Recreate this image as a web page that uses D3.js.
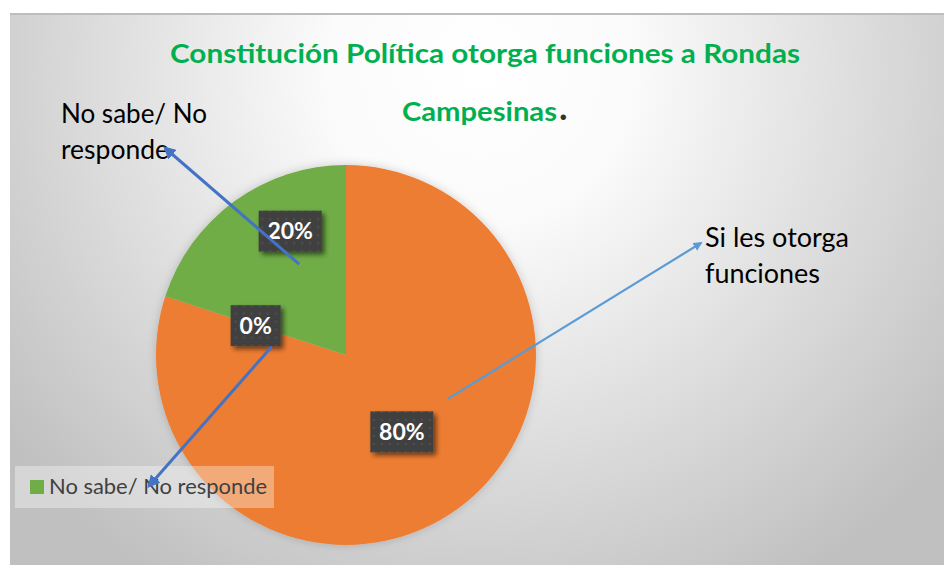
<!DOCTYPE html>
<html>
<head>
<meta charset="utf-8">
<script src="https://cdn.jsdelivr.net/npm/d3@7/dist/d3.min.js"></script>
<style>
  html, body { margin: 0; padding: 0; background: #ffffff; }
  svg { display: block; }
</style>
</head>
<body>
<svg id="chart" width="944" height="565"></svg>
<script>
// ---- data ----
const titleLines = ["Constitución Política otorga funciones a Rondas", "Campesinas"];
const categories = ["Si les otorga funciones", "No les otorga funciones", "No sabe/ No responde"];
const values = [80, 0, 20];
const valueLabels = ["80%", "0%", "20%"];
const colors = ["#ED7D31", "#A5A5A5", "#70AD47"];
const calloutLines = [["Si les otorga", "funciones"], ["No sabe/ No", "responde"]];
const legendItems = ["No sabe/ No responde"];

const W = 944, H = 565;
const svg = d3.select("#chart");
const defs = svg.append("defs");
const FONT = "Lato, 'Open Sans', 'Liberation Sans', sans-serif";

// background gradient
const bg = defs.append("radialGradient").attr("id", "bg")
  .attr("gradientUnits", "userSpaceOnUse")
  .attr("cx", 480).attr("cy", 70).attr("r", 600);
bg.append("stop").attr("offset", 0).attr("stop-color", "#ffffff");
bg.append("stop").attr("offset", 0.25).attr("stop-color", "#fbfbfb");
bg.append("stop").attr("offset", 1).attr("stop-color", "#c0c0c0");

// shadows
const sh = defs.append("filter").attr("id", "boxShadow")
  .attr("x", "-30%").attr("y", "-30%").attr("width", "170%").attr("height", "170%");
sh.append("feDropShadow").attr("dx", 3).attr("dy", 3).attr("stdDeviation", 2.5)
  .attr("flood-color", "#000").attr("flood-opacity", 0.55);
const psh = defs.append("filter").attr("id", "pieShadow")
  .attr("x", "-20%").attr("y", "-20%").attr("width", "140%").attr("height", "140%");
psh.append("feDropShadow").attr("dx", 0).attr("dy", 0).attr("stdDeviation", 5)
  .attr("flood-color", "#000").attr("flood-opacity", 0.18);

// dot pattern for label boxes
const pat = defs.append("pattern").attr("id", "dots")
  .attr("patternUnits", "userSpaceOnUse").attr("width", 8).attr("height", 8);
pat.append("rect").attr("width", 8).attr("height", 8).attr("fill", "#404040");
pat.append("circle").attr("cx", 4).attr("cy", 4).attr("r", 1.3).attr("fill", "#4e4e4e");

// arrow markers
function marker(id, color) {
  defs.append("marker").attr("id", id)
    .attr("viewBox", "0 0 10 10").attr("refX", 8).attr("refY", 5)
    .attr("markerWidth", 4.2).attr("markerHeight", 4.2)
    .attr("orient", "auto-start-reverse")
    .append("path").attr("d", "M0,0 L10,5 L0,10 Z").attr("fill", color);
}
marker("arrDark", "#4472C4");
marker("arrLight", "#5B9BD5");

// chart area
svg.append("rect").attr("x", 10).attr("y", 13).attr("width", W - 10).attr("height", H - 13)
  .attr("fill", "url(#bg)");
svg.append("line").attr("x1", 10).attr("x2", W).attr("y1", 14).attr("y2", 14)
  .attr("stroke", "#bdbdbd").attr("stroke-width", 2);

// helper: squeeze/stretch text to the measured width of the original
function fit(sel, target) {
  sel.attr("textLength", target).attr("lengthAdjust", "spacingAndGlyphs");
}

// title
const t1 = svg.append("text").attr("x", 170).attr("y", 63)
  .attr("font-family", FONT).attr("font-weight", 700)
  .attr("font-size", 26).attr("fill", "#00B050").text(titleLines[0]);
fit(t1, 630);
const t2 = svg.append("text").attr("x", 402).attr("y", 121)
  .attr("font-family", FONT).attr("font-weight", 700)
  .attr("font-size", 26).attr("fill", "#00B050");
t2.append("tspan").attr("textLength", 155).attr("lengthAdjust", "spacingAndGlyphs").text(titleLines[1]);
t2.append("tspan").attr("fill", "#333333").attr("font-size", 36).attr("dx", 2).attr("dy", -1).text(".");

// pie
const cx = 346, cy = 355, R = 190;
const pie = d3.pie().sort(null).value(d => d)(values);
const arc = d3.arc().innerRadius(0).outerRadius(R);
const g = svg.append("g").attr("transform", `translate(${cx},${cy})`);
g.append("g").attr("filter", "url(#pieShadow)")
  .selectAll("path").data(pie).join("path")
  .attr("d", arc).attr("fill", (d, i) => colors[i]);

// label positions (centroids; the 20% label was dragged outward)
const labelPos = pie.map((d, i) => {
  const c = arc.centroid(d);
  if (i === 2) return [c[0], c[1] - 47];
  return c;
});

// legend
const leg = svg.append("g");
leg.append("rect").attr("x", 15).attr("y", 466).attr("width", 259).attr("height", 42)
  .attr("fill", "#ffffff").attr("fill-opacity", 0.35);
leg.append("rect").attr("x", 30).attr("y", 480).attr("width", 14).attr("height", 14)
  .attr("fill", colors[2]);
const lt = leg.append("text").attr("x", 49).attr("y", 494)
  .attr("font-family", FONT).attr("font-size", 21).attr("fill", "#404040").text(legendItems[0]);
fit(lt, 218);

// callout labels
const c1 = svg.append("g").attr("font-family", FONT).attr("fill", "#000").attr("font-size", 26);
fit(c1.append("text").attr("x", 705).attr("y", 247).text(calloutLines[0][0]), 144);
fit(c1.append("text").attr("x", 705).attr("y", 283).text(calloutLines[0][1]), 115);
fit(c1.append("text").attr("x", 61).attr("y", 123).text(calloutLines[1][0]), 146);
fit(c1.append("text").attr("x", 61).attr("y", 159).text(calloutLines[1][1]), 108);

// data label boxes
const boxW = [63, 50, 63], boxH = 41;
g.append("g").selectAll("g").data(pie).join("g")
  .attr("transform", (d, i) => `translate(${labelPos[i][0]},${labelPos[i][1]})`)
  .each(function (d, i) {
    const s = d3.select(this);
    s.append("rect").attr("x", -boxW[i] / 2).attr("y", -boxH / 2)
      .attr("width", boxW[i]).attr("height", boxH)
      .attr("fill", "url(#dots)").attr("filter", "url(#boxShadow)");
    s.append("text").attr("text-anchor", "middle").attr("dy", "0.36em")
      .attr("font-family", FONT).attr("font-weight", 700).attr("font-size", 23)
      .attr("fill", "#ffffff").text(valueLabels[i]);
  });

// arrows
const arrows = [
  { from: [labelPos[2][0] + cx + 9, labelPos[2][1] + cy + 33], to: [165, 148], color: "#4472C4", w: 3, m: "arrDark" },
  { from: [labelPos[1][0] + cx + 16, labelPos[1][1] + cy + 21], to: [149, 486], color: "#4472C4", w: 3, m: "arrDark" },
  { from: [labelPos[0][0] + cx + 46, labelPos[0][1] + cy - 33], to: [701, 243], color: "#5B9BD5", w: 2.2, m: "arrLight" }
];
svg.append("g").selectAll("line").data(arrows).join("line")
  .attr("x1", d => d.from[0]).attr("y1", d => d.from[1])
  .attr("x2", d => d.to[0]).attr("y2", d => d.to[1])
  .attr("stroke", d => d.color).attr("stroke-width", d => d.w)
  .attr("marker-end", d => `url(#${d.m})`);
</script>
</body>
</html>
